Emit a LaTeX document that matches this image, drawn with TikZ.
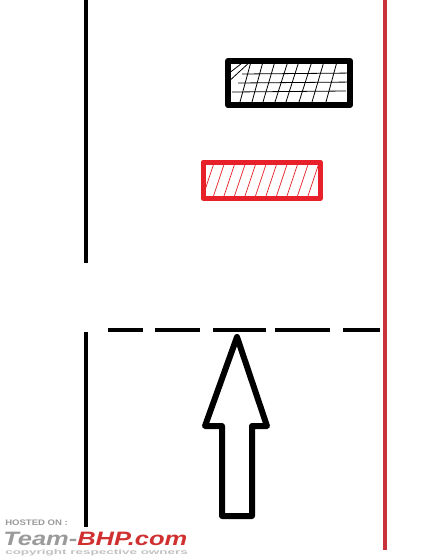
\documentclass[tikz,border=0pt]{standalone}
\usepackage{fontspec}
\setmainfont{Liberation Sans}
\definecolor{redline}{HTML}{C8323A}
\definecolor{redbox}{HTML}{E8202A}
\definecolor{wmred}{HTML}{D03030}
\definecolor{wmgray}{HTML}{9A9A9A}
\tikzset{
  roadline/.style={line width=2.4pt},
  boxblack/.style={line width=4.5pt, line join=round, line cap=round},
  boxred/.style={draw=redbox, line width=4pt, line join=round, line cap=round},
  hatch/.style={line width=0.6pt},
  redhatch/.style={draw=redbox, line width=0.5pt},
  arrowshape/.style={line width=4.5pt, line join=round, fill=white}
}
\begin{document}
\begin{tikzpicture}[x=0.75pt,y=-0.75pt]
\useasboundingbox (0,0) rectangle (444,558);
\fill[white] (0,0) rectangle (444,558);
% road edges
\coordinate (l1a) at (86,0); \coordinate (l1b) at (86,263);
\coordinate (l2a) at (86,332); \coordinate (l2b) at (86,527);
\draw[roadline] (l1a) -- (l1b);
\draw[roadline] (l2a) -- (l2b);
\coordinate (ra) at (385,0); \coordinate (rb) at (385,550);
\draw[roadline, draw=redline] (ra) -- (rb);
% dashed stop line
\foreach \a/\b in {108/143,155/200,213/266,275/330,343/380}{
  \draw[roadline] (\a,330) -- (\b,330);
}
% black box with grid hatching
\begin{scope}
\clip (226,58) rectangle (347,102);
\foreach \t/\bt in {252/240,264/252,276/263,289/275,300/286,313/299,325/312,338/326}{
  \draw[hatch] (\t,58) -- (\bt,102);
}
\draw[hatch] (242,74) -- (356,73);
\draw[hatch] (238,83) -- (356,82);
\draw[hatch] (232,92) -- (346,91);
\draw[hatch] (228,74) -- (246,60);
\draw[hatch] (226,84) -- (252,60);
\end{scope}
\node[draw, boxblack, minimum width=91.5pt, minimum height=33pt, inner sep=0, anchor=north west] (bbox) at (225,58) {};
% red box with hatching
\begin{scope}
\clip (201,160) rectangle (318,195);
\foreach \i in {0,...,12}{
  \draw[redhatch] (203+\i*10.5,196) -- (215+\i*10.5,160);
}
\end{scope}
\node[boxred, minimum width=87.75pt, minimum height=27pt, inner sep=0, anchor=north west] (rbox) at (200.5,159.5) {};
% arrow
\draw[arrowshape] (237,337) -- (267,426) -- (252,426) -- (252,516) -- (222,516) -- (222,426) -- (205,426) -- cycle;
% watermark
\node[anchor=west, inner sep=0, text=wmgray, font=\bfseries] (wm1) at (5,523) {\resizebox{47pt}{4.2pt}{HOSTED ON :}};
\node[anchor=south west, inner sep=0, font=\bfseries\itshape] (wm2) at (3,546) {\resizebox{138pt}{10pt}{\textcolor{wmgray}{Team-}\textcolor{wmred}{BHP.com}}};
\node[anchor=north west, inner sep=0, text=wmgray!60, font=\bfseries] (wm3) at (5,549) {\resizebox{137pt}{3.8pt}{copyright respective owners}};
\end{tikzpicture}
\end{document}
